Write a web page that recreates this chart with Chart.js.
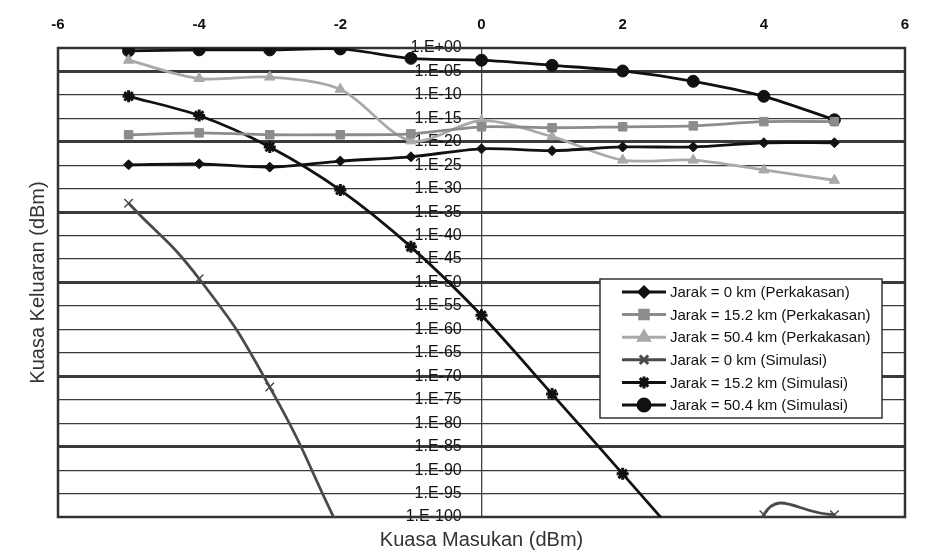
<!DOCTYPE html>
<html>
<head>
<meta charset="utf-8">
<script src="https://cdn.jsdelivr.net/npm/chart.js@4.4.1/dist/chart.umd.min.js"></script>
<style>
  html, body { margin: 0; padding: 0; background: #fff; }
  #wrap { width: 930px; height: 560px; }
</style>
</head>
<body>
<div id="wrap"><canvas id="berChart" width="930" height="560"></canvas></div>
<script>
// Input power (dBm) of every measured / simulated point
const inputPower = [-5, -4, -3, -2, -1, 0, 1, 2, 3, 4, 5];

// Values are exponents of the output level: -20 means 1.E-20
const hw0km    = [-24.9, -24.7, -25.4, -24.1, -23.2, -21.5, -21.9, -21.1, -21.1, -20.2, -20.2];
const hw152km  = [-18.5, -18.1, -18.5, -18.5, -18.3, -16.8, -17.0, -16.8, -16.6, -15.7, -15.7];
const hw504km  = [-2.6, -6.5, -6.2, -8.8, -19.8, -15.5, -18.9, -23.9, -23.9, -26.0, -28.2];
const sim0km   = [-33.1, -49.2, -72.3, -103, null, null, null, null, -150, -99.5, -99.5];
const sim152km = [-10.3, -14.4, -21.1, -30.3, -42.4, -57.0, -73.8, -90.8, -108, null, null];
const sim504km = [-0.6, -0.4, -0.4, -0.2, -2.2, -2.6, -3.7, -4.9, -7.1, -10.3, -15.3];

const seriesNames = [
    'Jarak = 0 km (Perkakasan)',
    'Jarak = 15.2 km (Perkakasan)',
    'Jarak = 50.4 km (Perkakasan)',
    'Jarak = 0 km (Simulasi)',
    'Jarak = 15.2 km (Simulasi)',
    'Jarak = 50.4 km (Simulasi)'
];

const xTicks = [-6, -4, -2, 0, 2, 4, 6];
const yTicks = [0, -5, -10, -15, -20, -25, -30, -35, -40, -45, -50,
                -55, -60, -65, -70, -75, -80, -85, -90, -95, -100];

const FONT = "'Liberation Sans', Arial, sans-serif";

function expLabel(v) {
    if (v === 0) return '1.E+00';
    const e = Math.abs(v);
    return '1.E-' + (e < 10 ? '0' + e : e);
}

function toPoints(values) {
    return inputPower.map((x, i) => ({ x: x, y: values[i] }));
}

// Plain frame around the plot area
const framePlugin = {
    id: 'frame',
    beforeDatasetsDraw(chart) {
        const a = chart.chartArea;
        const ctx = chart.ctx;
        ctx.save();
        ctx.strokeStyle = '#333';
        ctx.lineWidth = 2.5;
        ctx.strokeRect(a.left, a.top, a.right - a.left, a.bottom - a.top);
        ctx.restore();
    }
};

// Boxed legend sitting inside the plot, lower right
const boxLegendPlugin = {
    id: 'boxLegend',
    afterDraw(chart) {
        const ctx = chart.ctx;
        const left = 600, top = 279, width = 282, height = 139;
        const rowH = 22.6, firstRow = 292;
        ctx.save();
        ctx.fillStyle = '#fff';
        ctx.fillRect(left, top, width, height);
        ctx.strokeStyle = '#333';
        ctx.lineWidth = 1.5;
        ctx.strokeRect(left, top, width, height);
        chart.data.datasets.forEach((ds, i) => {
            const y = firstRow + i * rowH;
            ctx.strokeStyle = ds.borderColor;
            ctx.lineWidth = 3;
            ctx.beginPath();
            ctx.moveTo(622, y);
            ctx.lineTo(666, y);
            ctx.stroke();
            ctx.fillStyle = ds.pointBackgroundColor;
            ctx.strokeStyle = ds.pointBorderColor;
            Chart.helpers.drawPoint(ctx, {
                pointStyle: ds.pointStyle,
                radius: ds.pointRadius,
                rotation: 0,
                borderWidth: ds.pointBorderWidth
            }, 644, y);
            ctx.fillStyle = '#111';
            ctx.font = '15px ' + FONT;
            ctx.textAlign = 'left';
            ctx.textBaseline = 'middle';
            ctx.fillText(ds.label, 670, y + 1);
        });
        ctx.restore();
    }
};

function series(i, values, color, style, radius, pointBorder, tension) {
    return {
        label: seriesNames[i],
        data: toPoints(values),
        borderColor: color,
        backgroundColor: color,
        pointBackgroundColor: color,
        pointBorderColor: color,
        pointStyle: style,
        pointRadius: radius,
        pointBorderWidth: pointBorder,
        borderWidth: 2.8,
        tension: tension,
        fill: false
    };
}

document.addEventListener('DOMContentLoaded', function() {
    const heavyLines = [-5, -20, -35, -50, -70, -85];
    new Chart(document.getElementById('berChart').getContext('2d'), {
        type: 'line',
        data: {
            datasets: [
                series(0, hw0km, '#111', 'rectRot', 5, 1, 0.3),
                series(1, hw152km, '#8c8c8c', 'rect', 6, 1, 0.3),
                series(2, hw504km, '#a9a9a9', 'triangle', 6, 1, 0.3),
                series(3, sim0km, '#4a4a4a', 'crossRot', 6, 1.5, 0.5),
                series(4, sim152km, '#111', 'star', 6, 3, 0.3),
                series(5, sim504km, '#111', 'circle', 6, 1, 0.3)
            ]
        },
        options: {
            responsive: false,
            devicePixelRatio: 1,
            animation: false,
            layout: { padding: { left: 0, right: 25, top: 0, bottom: 0 } },
            plugins: {
                legend: { display: false },
                tooltip: { enabled: false }
            },
            scales: {
                x: {
                    type: 'linear',
                    position: 'top',
                    min: -6,
                    max: 6,
                    afterBuildTicks: s => { s.ticks = xTicks.map(v => ({ value: v })); },
                    afterFit: s => { s.height = 48; },
                    // only the vertical line through 0 is shown
                    grid: {
                        drawTicks: false,
                        color: c => (c.tick && c.tick.value === 0 ? '#444' : 'rgba(0,0,0,0)'),
                        lineWidth: 1.3
                    },
                    border: { display: false },
                    ticks: {
                        padding: 14,
                        color: '#111',
                        font: { family: FONT, size: 15, weight: 'bold' }
                    }
                },
                y: {
                    type: 'linear',
                    // labels sit just left of the 0 dBm line
                    position: { x: -0.28 },
                    min: -100,
                    max: 0,
                    afterBuildTicks: s => { s.ticks = yTicks.map(v => ({ value: v })); },
                    grid: {
                        color: '#3a3a3a',
                        lineWidth: c => (heavyLines.includes(c.tick && c.tick.value) ? 3 : 1.2),
                        drawTicks: false
                    },
                    border: { display: false },
                    ticks: {
                        autoSkip: false,
                        padding: 0,
                        color: '#111',
                        font: { family: FONT, size: 16 },
                        callback: v => expLabel(v)
                    }
                },
                xb: {
                    type: 'linear',
                    position: 'bottom',
                    afterFit: s => { s.height = 43; },
                    grid: { display: false },
                    border: { display: false },
                    ticks: { display: false },
                    title: {
                        display: true,
                        text: 'Kuasa Masukan (dBm)',
                        color: '#333',
                        padding: { top: 5, bottom: 8 },
                        font: { family: FONT, size: 20 }
                    }
                },
                yl: {
                    type: 'linear',
                    position: 'left',
                    afterFit: s => { s.width = 58; },
                    grid: { display: false },
                    border: { display: false },
                    ticks: { display: false },
                    title: {
                        display: true,
                        text: 'Kuasa Keluaran (dBm)',
                        color: '#333',
                        padding: { top: 26, bottom: 0 },
                        font: { family: FONT, size: 20 }
                    }
                }
            }
        },
        plugins: [framePlugin, boxLegendPlugin]
    });
});
</script>
</body>
</html>
